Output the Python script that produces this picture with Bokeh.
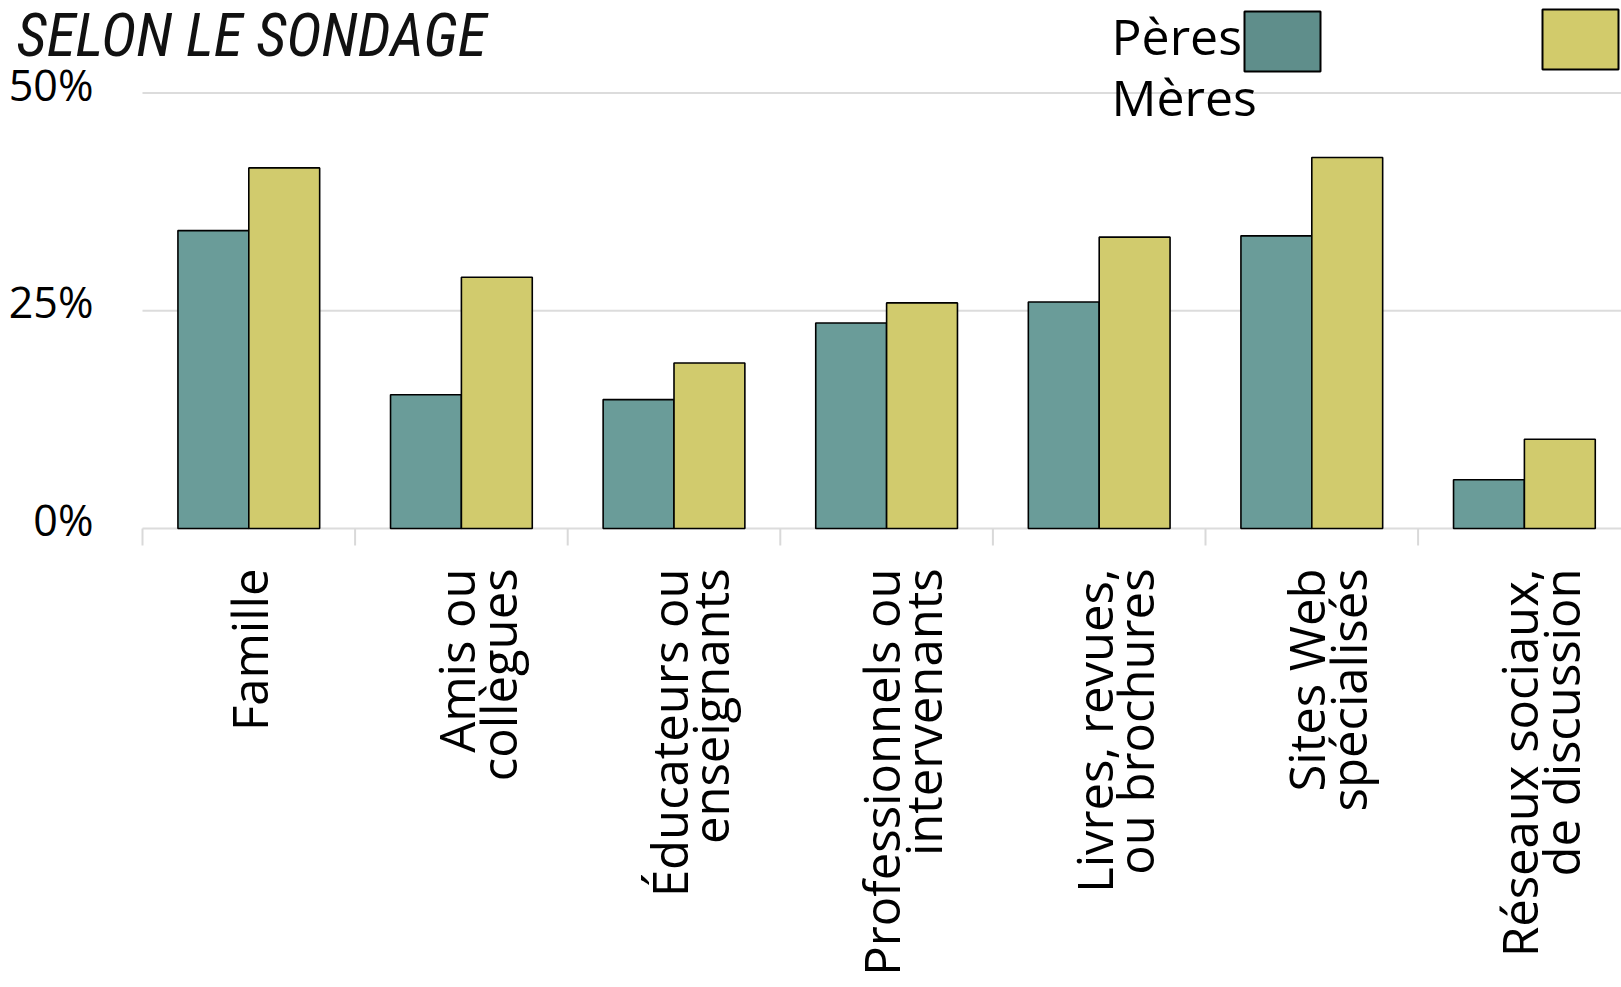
import math
import numpy as np
from bokeh.plotting import figure
from bokeh.models import Range1d, FixedTicker, Label, BoxAnnotation
from bokeh.core.properties import value
from bokeh.embed import file_html
from bokeh.resources import INLINE

# ---------------- data ----------------
categories = [
    "Famille",
    "Amis ou\ncollègues",
    "Éducateurs ou\nenseignants",
    "Professionnels ou\nintervenants",
    "Livres, revues,\nou brochures",
    "Sites Web\nspécialisés",
    "Réseaux sociaux,\nde discussion",
]
peres = [34.2, 15.35, 14.8, 23.6, 26.0, 33.6, 5.6]
meres = [41.4, 28.85, 19.0, 25.9, 33.45, 42.6, 10.25]
series_names = ["Pères", "Mères"]
y_ticks = [0, 25, 50]
y_tick_labels = ["0%", "25%", "50%"]
title_text = "SELON LE SONDAGE"

# ---------------- layout constants (page pixels) ----------------
W = 1621
PX_PER_CAT = 212.6      # horizontal pixels per category
PX_PER_UNIT = 8.71      # vertical pixels per percentage point
AXIS_X = 142            # page x where the category axis starts
AXIS_Y = 528            # page y of the 0 % line
TICK_END = 545          # page y where the category boundary ticks end
FRAME_H = 546


def dx(px):
    return (px - AXIS_X) / PX_PER_CAT


def dy(py):
    return (AXIS_Y - py) / PX_PER_UNIT


def label_y(baseline_px, font_px):
    # Bokeh Label places the text box middle at y; shift so the baseline lands right
    return dy(baseline_px - 0.39 * font_px)


TEAL = "#6A9C99"
YELLOW = "#D1CB6D"
TEAL_LEG = "#5F8E8B"
YELLOW_LEG = "#D2CB6B"
GRID = "#DCDCDC"
TICKC = "#D9D9D9"
FONT = "Open Sans"

p = figure(
    frame_width=W, frame_height=FRAME_H,
    x_range=Range1d(dx(0), dx(W)), y_range=Range1d(dy(FRAME_H), dy(0)),
    output_backend="svg", toolbar_location=None, y_axis_location=None,
    min_border_left=0, min_border_right=0, min_border_top=0, min_border_bottom=0,
)
p.outline_line_color = None
p.background_fill_color = "white"
p.border_fill_color = "white"
p.xgrid.visible = False
p.ygrid.visible = False

n = len(categories)
centers = np.arange(n) + 0.5
boundaries = np.arange(n + 1)
x_end = dx(W)

# horizontal grid lines (start at the category axis, as in the reference)
p.segment(x0=[0] * len(y_ticks), x1=[x_end] * len(y_ticks), y0=y_ticks, y1=y_ticks,
          line_color=GRID, line_width=2)
# category boundary ticks below the 0 line
p.segment(x0=boundaries, x1=boundaries, y0=[0] * (n + 1), y1=[dy(TICK_END)] * (n + 1),
          line_color=TICKC, line_width=2)

# y tick labels
p.text(x=[dx(93)] * len(y_ticks), y=y_ticks, text=y_tick_labels,
       text_align="right", text_baseline="middle", y_offset=-9,
       text_font=value(FONT), text_font_size="43px", text_color="black")

# bars
bw = 1 / 3
p.vbar(x=centers - bw / 2, top=peres, width=bw, fill_color=TEAL,
       line_color="black", line_width=1.6)
p.vbar(x=centers + bw / 2, top=meres, width=bw, fill_color=YELLOW,
       line_color="black", line_width=1.6)

# x axis: category labels only
LINE_H = 0.63
FS = 49
shift = (FS * LINE_H / 2) / PX_PER_CAT
label_pos = [float(c + (shift if "\n" in lab else 0.0)) for c, lab in zip(centers, categories)]
xa = p.xaxis[0]
xa.ticker = FixedTicker(ticks=label_pos, minor_ticks=[])
xa.major_label_overrides = {pos: lab for pos, lab in zip(label_pos, categories)}
xa.major_tick_line_color = None
xa.minor_tick_line_color = None
xa.major_tick_in = 0
xa.major_tick_out = 0
xa.minor_tick_in = 0
xa.minor_tick_out = 0
xa.axis_line_color = None
xa.major_label_orientation = math.pi / 2
xa.major_label_standoff = 22
xa.major_label_text_font = FONT
xa.major_label_text_font_size = f"{FS}px"
xa.major_label_text_color = "black"
xa.major_label_text_line_height = LINE_H

# title
TFS = 60
p.add_layout(Label(x=dx(16), y=label_y(58, TFS), text=title_text, text_baseline="alphabetic",
                   text_font="Roboto Condensed, Open Sans Condensed, DejaVu Sans Condensed, Liberation Sans Narrow, Open Sans",
                   text_font_style="italic", text_font_size=f"{TFS}px", text_color="#111111"))

# legend (manual, as in the reference)
LFS = 50
p.add_layout(Label(x=dx(1111), y=label_y(55, LFS), text=series_names[0], text_baseline="alphabetic",
                   text_font=FONT, text_font_size=f"{LFS}px", text_color="black"))
p.add_layout(Label(x=dx(1111), y=label_y(116, LFS), text=series_names[1], text_baseline="alphabetic",
                   text_font=FONT, text_font_size=f"{LFS}px", text_color="black"))
p.add_layout(BoxAnnotation(left=dx(1244), right=dx(1320), top=dy(11), bottom=dy(71),
                           fill_color=TEAL_LEG, fill_alpha=1, line_color="black",
                           line_alpha=1, line_width=2))
p.add_layout(BoxAnnotation(left=dx(1542), right=dx(1618), top=dy(9), bottom=dy(69),
                           fill_color=YELLOW_LEG, fill_alpha=1, line_color="black",
                           line_alpha=1, line_width=2))

open("out.html", "w").write(file_html(p, INLINE))
